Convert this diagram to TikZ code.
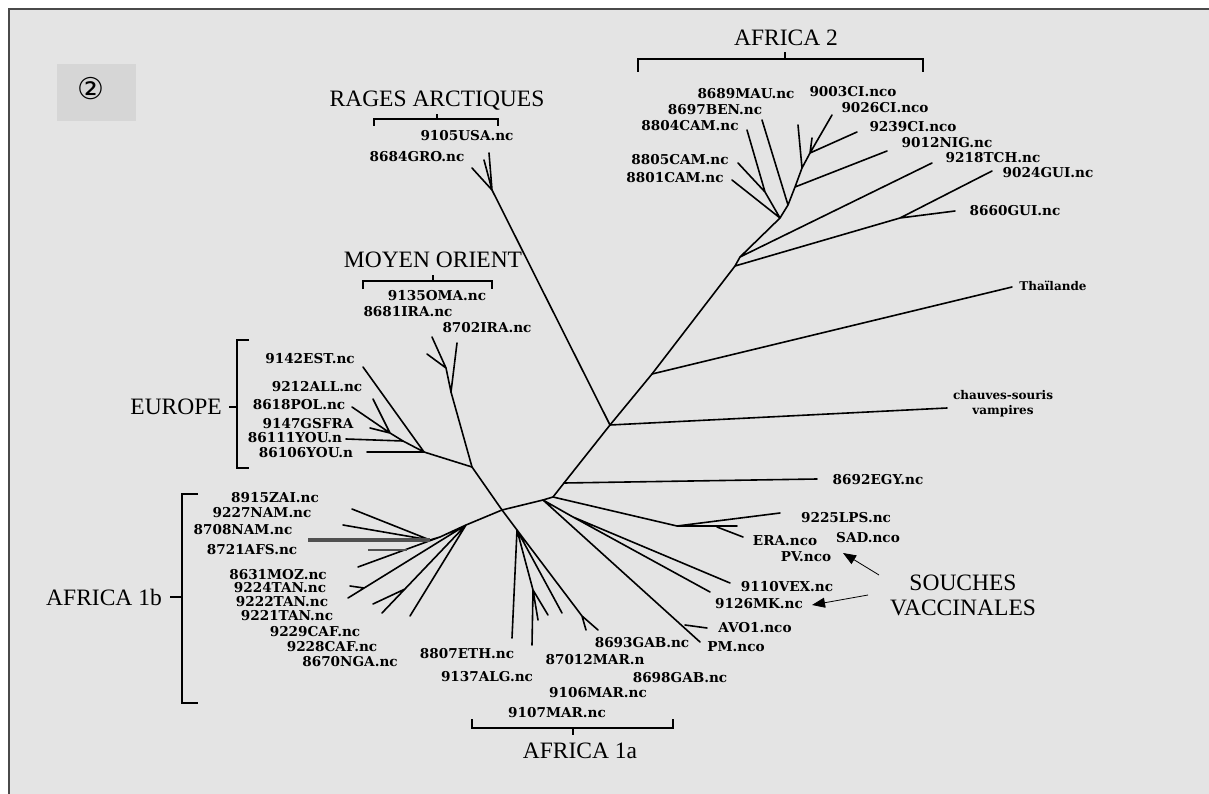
\documentclass[tikz,border=0pt]{standalone}
\usepackage{fontspec}
\setmainfont{Liberation Serif}
\newfontfamily\strainfont{DejaVu Serif}
\newfontfamily\symfont{DejaVu Sans}
\usetikzlibrary{arrows.meta}
\definecolor{PaperGrey}{HTML}{E4E4E4}
\definecolor{BoxGrey}{HTML}{D6D6D6}
\definecolor{FrameGrey}{HTML}{4A4A4A}
\definecolor{FatGrey}{HTML}{505050}

\begin{document}
\begin{tikzpicture}[x=1pt,y=-1pt,
  branch/.style={line width=1.6pt,line cap=round,line join=round},
  strain/.style={font=\strainfont\bfseries\fontsize{13.6}{14}\selectfont,inner sep=0pt},
  tiny/.style={font=\strainfont\bfseries\fontsize{12}{15}\selectfont,inner sep=0pt,align=center},
  group/.style={font=\fontsize{23.5}{24}\selectfont,inner sep=0pt},
  brace/.style={line width=1.6pt},
  pointer/.style={line width=0.8pt,-{Triangle[length=13pt,width=10pt]}}]

\useasboundingbox (0,0) rectangle (1209,794);
\fill[white] (0,0) rectangle (1209,794);
\fill[PaperGrey] (9,9) rectangle (1209,794);
\draw[FrameGrey,line width=1.6pt] (9,794) -- (9,9) -- (1209,9);

% ================= panel number =================
\fill[BoxGrey] (57,64) rectangle (136,121);
\node[font=\symfont\fontsize{30}{30}\selectfont,inner sep=0pt] (num) at (91,89) {②};

% ================= backbone =================
\coordinate (R)  at (502,510);
\coordinate (E)  at (472,467);
\coordinate (ME) at (451,392);
\coordinate (EU) at (424,452);
\coordinate (A1b) at (466,525);
\coordinate (A1a) at (517,530);
\coordinate (V0) at (543,500);
\coordinate (N3) at (553,497);
\coordinate (EG) at (564,483);
\coordinate (N4) at (610,425);
\coordinate (TH) at (652,374);
\coordinate (A2) at (735,266);
\coordinate (AR) at (492,190);

\draw[branch] (ME) -- (E) -- (R) -- (V0) -- (N3) -- (EG) -- (N4) -- (TH) -- (A2);
\draw[branch] (EU) -- (E);
\draw[branch] (A1b) -- (R) -- (A1a);
\draw[branch] (N4) -- (AR);

% ================= rages arctiques =================
\coordinate (usa) at (489,153);
\coordinate (usb) at (484,160);
\coordinate (gro) at (472,168);
\draw[branch] (AR) -- (usa) (AR) -- (usb) (AR) -- (gro);
\node[strain] (l9105) at (467,136) {9105USA.nc};
\node[strain] (l8684) at (417,157) {8684GRO.nc};
\node[group] (gArc) at (437,101) {RAGES ARCTIQUES};
\draw[brace] (374,126) -- (374,119) -- (498,119) -- (498,126) (437,119) -- (437,114);

% ================= moyen orient =================
\coordinate (me1) at (432,337);
\coordinate (me2) at (427,354);
\coordinate (me3) at (457,343);
\coordinate (ME2) at (446,368);
\draw[branch] (ME) -- (ME2) -- (me1) (ME2) -- (me2) (ME) -- (me3);
\node[strain] (l9135) at (437,296) {9135OMA.nc};
\node[strain] (l8681) at (408,312) {8681IRA.nc};
\node[strain] (l8702) at (487,328) {8702IRA.nc};
\node[group] (gMO) at (433,260) {MOYEN ORIENT};
\draw[brace] (363,289) -- (363,281) -- (492,281) -- (492,289) (433,281) -- (433,275);

% ================= europe =================
\coordinate (EU2) at (403,441);
\coordinate (EU3) at (390,433);
\coordinate (e106) at (367,452);
\coordinate (e142) at (363,367);
\coordinate (e111) at (346,439);
\coordinate (e618) at (352,407);
\coordinate (e212) at (373,399);
\coordinate (e147) at (370,428);
\draw[branch] (EU) -- (e106) (EU) -- (e142) (EU) -- (EU2) -- (e111)
  (EU2) -- (EU3) -- (e618) (EU3) -- (e212) (EU3) -- (e147);
\node[strain] (l9142) at (310,359) {9142EST.nc};
\node[strain] (l9212) at (317,387) {9212ALL.nc};
\node[strain] (l8618) at (299,405) {8618POL.nc};
\node[strain] (l9147) at (308,424) {9147GSFRA};
\node[strain] (l86111) at (295,438) {86111YOU.n};
\node[strain] (l86106) at (306,453) {86106YOU.n};
\node[group,anchor=east] (gEU) at (222,407) {EUROPE};
\draw[brace] (229,407) -- (237,407) (249,340) -- (237,340) -- (237,468) -- (249,468);

% ================= africa 1b =================
\coordinate (S1) at (440,537);
\coordinate (S2) at (430,540);
\coordinate (S3) at (405,589);
\coordinate (Tb) at (364,588);
\coordinate (b915) at (352,509);
\coordinate (b227) at (343,525);
\coordinate (b708) at (308,540);
\coordinate (b721) at (368,550);
\coordinate (B721) at (407,550);
\coordinate (b631) at (358,567);
\coordinate (b224) at (350,586);
\coordinate (b222) at (348,598);
\coordinate (b221) at (373,604);
\coordinate (b229) at (382,613);
\coordinate (b670) at (410,616);
\draw[branch] (A1b) -- (S1) -- (S2) -- (b915) (S2) -- (b227) (S1) -- (b631)
  (A1b) -- (b222) (Tb) -- (b224) (A1b) -- (b229) (S3) -- (b221) (A1b) -- (b670);
\draw[FatGrey,line width=3.2pt] (b708) -- (S2);
\draw[FatGrey,line width=2.4pt] (b721) -- (B721);
\node[strain] (l8915) at (275,498) {8915ZAI.nc};
\node[strain] (l9227) at (262,513) {9227NAM.nc};
\node[strain] (l8708) at (243,530) {8708NAM.nc};
\node[strain] (l8721) at (252,550) {8721AFS.nc};
\node[strain] (l8631) at (278,575) {8631MOZ.nc};
\node[strain] (l9224) at (280,588) {9224TAN.nc};
\node[strain] (l9222) at (282,602) {9222TAN.nc};
\node[strain] (l9221) at (287,616) {9221TAN.nc};
\node[strain] (l9229) at (315,632) {9229CAF.nc};
\node[strain] (l9228) at (332,647) {9228CAF.nc};
\node[strain] (l8670) at (350,662) {8670NGA.nc};
\node[group,anchor=east] (gA1b) at (162,597) {AFRICA 1b};
\draw[brace] (170,597) -- (182,597) (198,494) -- (182,494) -- (182,703) -- (198,703);

% ================= africa 1a =================
\coordinate (AL) at (533,590);
\coordinate (GB) at (582,616);
\coordinate (a807) at (512,638);
\coordinate (a137) at (532,645);
\coordinate (m1) at (538,620);
\coordinate (m2) at (548,615);
\coordinate (m3) at (562,613);
\coordinate (g1) at (586,630);
\coordinate (g2) at (598,630);
\draw[branch] (A1a) -- (a807) (A1a) -- (AL) -- (a137) (AL) -- (m1) (AL) -- (m2)
  (A1a) -- (m3) (A1a) -- (GB) -- (g2) (GB) -- (g1);
\node[strain] (l8807) at (467,654) {8807ETH.nc};
\node[strain] (l9137) at (487,677) {9137ALG.nc};
\node[strain] (l8693) at (642,643) {8693GAB.nc};
\node[strain] (l87012) at (595,660) {87012MAR.n};
\node[strain] (l8698) at (680,678) {8698GAB.nc};
\node[strain] (l9106) at (598,693) {9106MAR.nc};
\node[strain] (l9107) at (557,713) {9107MAR.nc};
\node[group] (gA1a) at (580,751) {AFRICA 1a};
\draw[brace] (472,719) -- (472,728) -- (673,728) -- (673,719) (573,728) -- (573,735);

% ================= vaccine strains =================
\coordinate (V1) at (573,517);
\coordinate (AV) at (685,625);
\coordinate (ER) at (677,526);
\coordinate (ER2) at (717,527);
\coordinate (vex) at (730,583);
\coordinate (mk) at (710,592);
\coordinate (pm) at (700,642);
\coordinate (avo) at (707,628);
\coordinate (lps) at (780,513);
\coordinate (sad) at (737,526);
\coordinate (era) at (743,537);
\coordinate (egy) at (817,479);
\draw[branch] (V0) -- (V1) -- (vex) (V1) -- (mk) (V0) -- (pm) (AV) -- (avo)
  (N3) -- (ER) -- (lps) (ER) -- (sad) (ER2) -- (era) (EG) -- (egy);
\node[strain] (l8692) at (878,480) {8692EGY.nc};
\node[strain] (l9225) at (846,518) {9225LPS.nc};
\node[strain] (lERA) at (785,541) {ERA.nco};
\node[strain] (lSAD) at (868,538) {SAD.nco};
\node[strain] (lPV) at (806,557) {PV.nco};
\node[strain] (l9110) at (787,587) {9110VEX.nc};
\node[strain] (l9126) at (759,604) {9126MK.nc};
\node[strain] (lAVO) at (755,628) {AVO1.nco};
\node[strain] (lPM) at (736,647) {PM.nco};
\node[group] (gSou) at (963,583) {SOUCHES};
\node[group] (gVac) at (963,608) {VACCINALES};
\coordinate (arPV) at (879,575);
\coordinate (arMK) at (868,595);
\coordinate (hdPV) at (843,553);
\coordinate (hdMK) at (812,605);
\draw[pointer] (arPV) -- (hdPV);
\draw[pointer] (arMK) -- (hdMK);

% ================= bats, thailand =================
\coordinate (bat) at (947,408);
\coordinate (thai) at (1012,287);
\draw[branch] (N4) -- (bat) (TH) -- (thai);
\node[tiny] (lThai) at (1053,286) {Thaïlande};
\node[tiny] (lBat) at (1003,404) {chauves-souris\\vampires};

% ================= africa 2 =================
\coordinate (A2b) at (740,257);
\coordinate (P1) at (780,218);
\coordinate (P2) at (788,205);
\coordinate (P3) at (795,187);
\coordinate (P4) at (802,168);
\coordinate (P5) at (810,153);
\coordinate (GU) at (900,218);
\coordinate (Bc) at (765,192);
\coordinate (c9024) at (992,171);
\coordinate (c8660) at (955,211);
\coordinate (c9218) at (932,163);
\coordinate (c9012) at (887,151);
\coordinate (c9239) at (857,132);
\coordinate (c9026) at (832,115);
\coordinate (c9003) at (812,138);
\coordinate (c8689) at (798,125);
\coordinate (c8697) at (762,120);
\coordinate (c8804) at (747,130);
\coordinate (c8805) at (738,163);
\coordinate (c8801) at (732,180);
\draw[branch] (A2) -- (A2b) -- (P1) -- (P2) -- (P3) -- (P4) -- (P5) -- (c9026)
  (A2) -- (GU) -- (c9024) (GU) -- (c8660) (A2b) -- (c9218)
  (P1) -- (c8801) (P1) -- (Bc) -- (c8804) (Bc) -- (c8805) (P2) -- (c8697)
  (P3) -- (c9012) (P4) -- (c8689) (P5) -- (c9239) (P5) -- (c9003);
\node[strain] (l8689) at (746,94) {8689MAU.nc};
\node[strain] (l9003) at (853,92) {9003CI.nco};
\node[strain] (l8697) at (715,110) {8697BEN.nc};
\node[strain] (l9026) at (885,108) {9026CI.nco};
\node[strain] (l8804) at (690,126) {8804CAM.nc};
\node[strain] (l9239) at (913,127) {9239CI.nco};
\node[strain] (l9012) at (947,143) {9012NIG.nc};
\node[strain] (l9218) at (993,158) {9218TCH.nc};
\node[strain] (l9024) at (1048,173) {9024GUI.nc};
\node[strain] (l8660) at (1015,211) {8660GUI.nc};
\node[strain] (l8805) at (680,160) {8805CAM.nc};
\node[strain] (l8801) at (675,178) {8801CAM.nc};
\node[group] (gA2) at (786,38) {AFRICA 2};
\draw[brace] (638,72) -- (638,59) -- (923,59) -- (923,72) (785,59) -- (785,52);
\end{tikzpicture}
\end{document}
